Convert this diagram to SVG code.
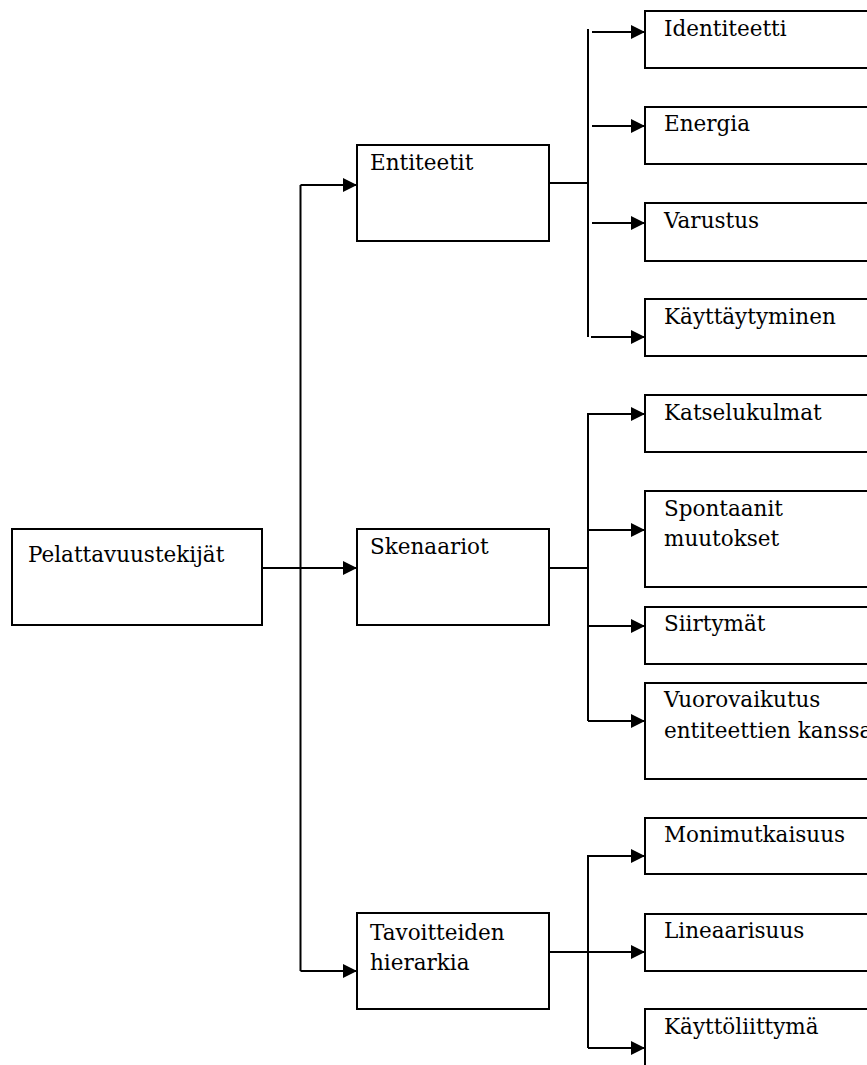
<svg xmlns="http://www.w3.org/2000/svg" width="867" height="1065" viewBox="0 0 867 1065">
  <style>
    .box { fill: #ffffff; stroke: #000000; stroke-width: 2; }
    .lbl { font-family: "DejaVu Serif", "Liberation Serif", serif; font-size: 21.5px; fill: #000000; }
    .wire { fill: none; stroke: #000000; stroke-width: 2; }
    .arrow { marker-end: url(#head); }
  </style>
  <defs>
    <marker id="head" viewBox="0 0 14 14" refX="14" refY="7" markerWidth="14" markerHeight="14" markerUnits="userSpaceOnUse" orient="auto">
      <path d="M0,0 L14,7 L0,14 z" fill="#000000"/>
    </marker>
  </defs>

  <rect width="867" height="1065" fill="#ffffff"/>

  <!-- connectors -->
  <g id="connectors">
    <!-- root to the three categories -->
    <path class="wire" d="M262,568 H300.5"/>
    <path class="wire" d="M300.5,185 V971"/>
    <path class="wire arrow" d="M300.5,185 H357"/>
    <path class="wire arrow" d="M262,568 H357"/>
    <path class="wire arrow" d="M300.5,971 H357"/>

    <!-- Entiteetit branch -->
    <path class="wire" d="M549,183 H588"/>
    <path class="wire" d="M588,29 V337"/>
    <path class="wire arrow" d="M592,32 H645"/>
    <path class="wire arrow" d="M592,126 H645"/>
    <path class="wire arrow" d="M592,223 H645"/>
    <path class="wire arrow" d="M591,337 H645"/>

    <!-- Skenaariot branch -->
    <path class="wire" d="M549,568 H588"/>
    <path class="wire arrow" d="M588,721 V414 H645"/>
    <path class="wire arrow" d="M588,530 H645"/>
    <path class="wire arrow" d="M588,626 H645"/>
    <path class="wire arrow" d="M588,721 H645"/>

    <!-- Tavoitteiden hierarkia branch -->
    <path class="wire" d="M549,952 H588"/>
    <path class="wire arrow" d="M588,1048 V856 H645"/>
    <path class="wire arrow" d="M588,952 H645"/>
    <path class="wire arrow" d="M588,1048 H645"/>
  </g>

  <!-- root -->
  <g id="pelattavuustekijat">
    <rect class="box" x="12" y="529" width="250" height="96"/>
    <text class="lbl" x="28" y="562">Pelattavuustekijät</text>
  </g>

  <!-- categories -->
  <g id="entiteetit">
    <rect class="box" x="357" y="145" width="192" height="96"/>
    <text class="lbl" x="370" y="170">Entiteetit</text>
  </g>
  <g id="skenaariot">
    <rect class="box" x="357" y="529" width="192" height="96"/>
    <text class="lbl" x="370" y="554">Skenaariot</text>
  </g>
  <g id="tavoitteiden-hierarkia">
    <rect class="box" x="357" y="913" width="192" height="96"/>
    <text class="lbl" x="370" y="940">Tavoitteiden</text>
    <text class="lbl" x="370" y="970">hierarkia</text>
  </g>

  <!-- leaves: Entiteetit -->
  <g id="identiteetti">
    <rect class="box" x="645" y="11" width="240" height="57"/>
    <text class="lbl" x="664" y="36">Identiteetti</text>
  </g>
  <g id="energia">
    <rect class="box" x="645" y="107" width="240" height="57"/>
    <text class="lbl" x="664" y="131">Energia</text>
  </g>
  <g id="varustus">
    <rect class="box" x="645" y="203" width="240" height="58"/>
    <text class="lbl" x="664" y="228">Varustus</text>
  </g>
  <g id="kayttaytyminen">
    <rect class="box" x="645" y="299" width="240" height="57"/>
    <text class="lbl" x="664" y="324">Käyttäytyminen</text>
  </g>

  <!-- leaves: Skenaariot -->
  <g id="katselukulmat">
    <rect class="box" x="645" y="395" width="240" height="57"/>
    <text class="lbl" x="664" y="420">Katselukulmat</text>
  </g>
  <g id="spontaanit-muutokset">
    <rect class="box" x="645" y="491" width="240" height="96"/>
    <text class="lbl" x="664" y="516">Spontaanit</text>
    <text class="lbl" x="664" y="546">muutokset</text>
  </g>
  <g id="siirtymat">
    <rect class="box" x="645" y="607" width="240" height="57"/>
    <text class="lbl" x="664" y="631">Siirtymät</text>
  </g>
  <g id="vuorovaikutus">
    <rect class="box" x="645" y="683" width="240" height="96"/>
    <text class="lbl" x="664" y="707">Vuorovaikutus</text>
    <text class="lbl" x="664" y="738">entiteettien kanssa</text>
  </g>

  <!-- leaves: Tavoitteiden hierarkia -->
  <g id="monimutkaisuus">
    <rect class="box" x="645" y="818" width="240" height="56"/>
    <text class="lbl" x="664" y="842">Monimutkaisuus</text>
  </g>
  <g id="lineaarisuus">
    <rect class="box" x="645" y="914" width="240" height="57"/>
    <text class="lbl" x="664" y="938">Lineaarisuus</text>
  </g>
  <g id="kayttoliittyma">
    <rect class="box" x="645" y="1009" width="240" height="80"/>
    <text class="lbl" x="664" y="1034">Käyttöliittymä</text>
  </g>
</svg>
